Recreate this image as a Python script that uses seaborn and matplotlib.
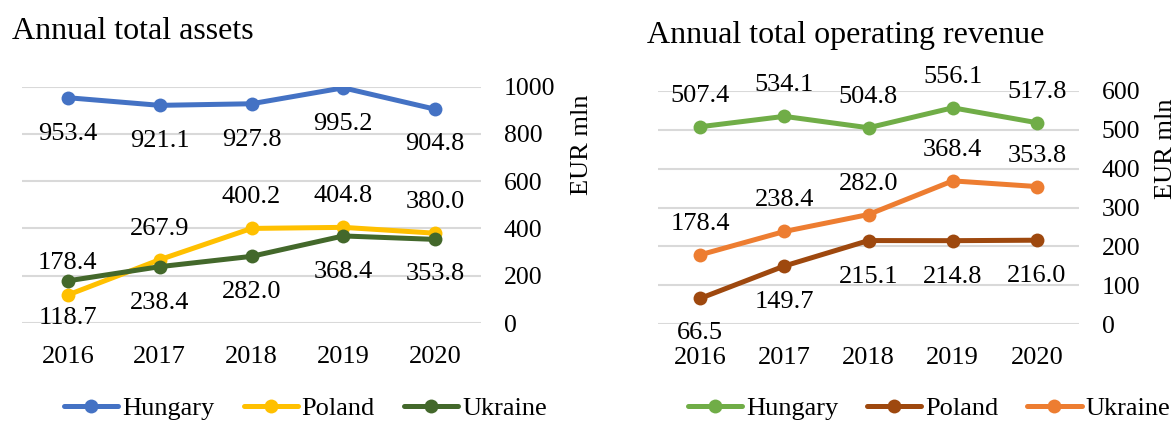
import matplotlib
matplotlib.use("Agg")
import matplotlib.pyplot as plt
import pandas as pd
import seaborn as sns

# ---- data -------------------------------------------------------------
years = [2016, 2017, 2018, 2019, 2020]
countries = ["Hungary", "Poland", "Ukraine"]

assets_hungary = [953.4, 921.1, 927.8, 995.2, 904.8]
assets_poland = [118.7, 267.9, 400.2, 404.8, 380.0]
assets_ukraine = [178.4, 238.4, 282.0, 368.4, 353.8]

revenue_hungary = [507.4, 534.1, 504.8, 556.1, 517.8]
revenue_poland = [66.5, 149.7, 215.1, 214.8, 216.0]
revenue_ukraine = [178.4, 238.4, 282.0, 368.4, 353.8]

assets_ticks = [0, 200, 400, 600, 800, 1000]
revenue_ticks = [0, 100, 200, 300, 400, 500, 600]

# ---- styling ----------------------------------------------------------
sns.set_theme(style="white")
plt.rcParams["font.family"] = ["Liberation Serif", "DejaVu Serif"]
for key in ("text.color", "axes.labelcolor", "xtick.color", "ytick.color"):
    plt.rcParams[key] = "black"

assets_colors = {"Hungary": "#4472C4", "Poland": "#FFC000", "Ukraine": "#43682B"}
revenue_colors = {"Hungary": "#70AD47", "Poland": "#9E480E", "Ukraine": "#ED7D31"}

# label placement (pixels, + above / - below the marker)
assets_offsets = {
    "Hungary": [-36, -36, -36, -36, -35],
    "Poland": [-23, 31, 31, 31, 31],
    "Ukraine": [18, -36, -36, -36, -35],
}
revenue_offsets = {
    "Hungary": [31, 31, 31, 31, 31],
    "Poland": [-35, -36, -36, -36, -36],
    "Ukraine": [31, 31, 31, 31, 31],
}

W, H = 1176, 421
fig = plt.figure(figsize=(W / 100, H / 100), dpi=100)


def px_axes(x0, x1, ytop, ybot):
    return fig.add_axes([x0 / W, 1 - ybot / H, (x1 - x0) / W, (ybot - ytop) / H])


def long_frame(series):
    rows = []
    for name, vals in series.items():
        for y, v in zip(years, vals):
            rows.append({"Year": y, "Value": v, "Country": name})
    return pd.DataFrame(rows)


def draw_panel(ax, series, colors, offsets, ticks, title_xy, title):
    df = long_frame(series)
    sns.lineplot(
        data=df, x="Year", y="Value", hue="Country", hue_order=countries,
        palette=colors, marker="o", markersize=10, markeredgewidth=0,
        linewidth=3.6, ax=ax, legend=True,
    )
    for name, vals in series.items():
        for y, v, dy in zip(years, vals, offsets[name]):
            ax.annotate(f"{v:.1f}", (y, v), xytext=(0, dy),
                        textcoords="offset pixels", ha="center", va="center",
                        fontsize=19, color="black")
    ax.set_xlim(years[0] - 0.5, years[-1] + 0.5)
    ax.set_ylim(ticks[0], ticks[-1])
    ax.set_xticks(years)
    ax.set_xticklabels([str(y) for y in years])
    ax.set_yticks(ticks)
    ax.yaxis.tick_right()
    ax.tick_params(axis="y", length=0, pad=16.5, labelsize=18.5)
    ax.tick_params(axis="x", length=0, pad=16.5, labelsize=19)
    ax.grid(axis="y", color="#D9D9D9", linewidth=1.5)
    ax.set_axisbelow(True)
    for s in ax.spines.values():
        s.set_visible(False)
    ax.set_xlabel("")
    ax.set_ylabel("EUR mln", fontsize=19, rotation=90)
    ax.yaxis.set_label_position("right")
    handles, labels = ax.get_legend_handles_labels()
    ax.get_legend().remove()
    fig.text(title_xy[0] / W, 1 - title_xy[1] / H, title, fontsize=23,
             ha="left", va="baseline")
    return handles, labels


ax1 = px_axes(22, 481, 86.7, 323)
h1, l1 = draw_panel(
    ax1,
    {"Hungary": assets_hungary, "Poland": assets_poland, "Ukraine": assets_ukraine},
    assets_colors, assets_offsets, assets_ticks, (12, 39), "Annual total assets",
)
ax1.yaxis.set_label_coords((582 - 22) / 459, (323 - 145) / 236.3)
ax1.yaxis.label.set_va("center")
ax1.yaxis.label.set_ha("center")

ax2 = px_axes(658, 1079, 90.7, 324.3)
h2, l2 = draw_panel(
    ax2,
    {"Hungary": revenue_hungary, "Poland": revenue_poland, "Ukraine": revenue_ukraine},
    revenue_colors, revenue_offsets, revenue_ticks, (647, 43),
    "Annual total operating revenue",
)
ax2.yaxis.set_label_coords((1166 - 658) / 421, (324.3 - 149) / 233.6)
ax2.yaxis.label.set_va("center")
ax2.yaxis.label.set_ha("center")

legend_kw = dict(loc="center", ncol=3, frameon=False, fontsize=19,
                 handlelength=2.05, handletextpad=0.15, columnspacing=1.1,
                 borderaxespad=0, borderpad=0)
fig.legend(h1, l1, bbox_to_anchor=(305.5 / W, 1 - 408 / H), **legend_kw)
fig.legend(h2, l2, bbox_to_anchor=(929 / W, 1 - 408 / H), **legend_kw)

fig.savefig("out.png", dpi=100)
